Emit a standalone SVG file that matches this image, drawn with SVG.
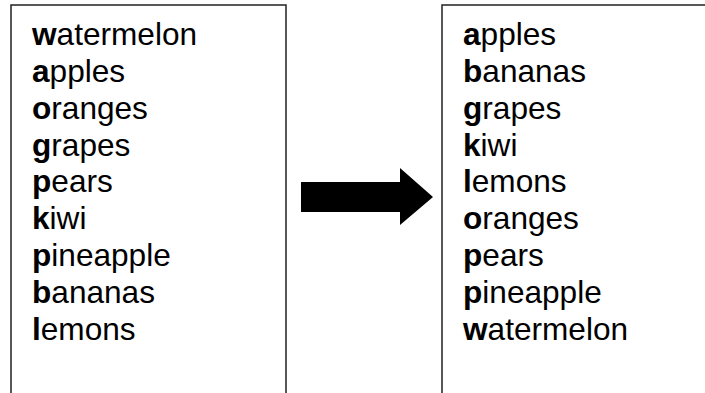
<svg xmlns="http://www.w3.org/2000/svg" width="705" height="393" viewBox="0 0 705 393">
<style>
.box{fill:#fff;stroke:#222;stroke-width:1.5}
.t{font-family:"Liberation Sans",Arial,sans-serif;font-size:31.6px;fill:#000}
.b{font-weight:bold}
</style>
<rect width="705" height="393" fill="#fff"/>
<g id="left-list">
<path class="box" d="M11,400 V5 H286 V400"/>
<text class="t" x="32" y="45"><tspan class="b">w</tspan>atermelon</text>
<text class="t" x="32" y="82"><tspan class="b">a</tspan>pples</text>
<text class="t" x="32" y="119"><tspan class="b">o</tspan>ranges</text>
<text class="t" x="32" y="156"><tspan class="b">g</tspan>rapes</text>
<text class="t" x="32" y="192"><tspan class="b">p</tspan>ears</text>
<text class="t" x="32" y="229"><tspan class="b">k</tspan>iwi</text>
<text class="t" x="32" y="266"><tspan class="b">p</tspan>ineapple</text>
<text class="t" x="32" y="303"><tspan class="b">b</tspan>ananas</text>
<text class="t" x="32" y="340"><tspan class="b">l</tspan>emons</text>
</g>
<g id="right-list">
<path class="box" d="M442,400 V5 H710"/>
<text class="t" x="463" y="45"><tspan class="b">a</tspan>pples</text>
<text class="t" x="463" y="82"><tspan class="b">b</tspan>ananas</text>
<text class="t" x="463" y="119"><tspan class="b">g</tspan>rapes</text>
<text class="t" x="463" y="156"><tspan class="b">k</tspan>iwi</text>
<text class="t" x="463" y="192"><tspan class="b">l</tspan>emons</text>
<text class="t" x="463" y="229"><tspan class="b">o</tspan>ranges</text>
<text class="t" x="463" y="266"><tspan class="b">p</tspan>ears</text>
<text class="t" x="463" y="303"><tspan class="b">p</tspan>ineapple</text>
<text class="t" x="463" y="340"><tspan class="b">w</tspan>atermelon</text>
</g>
<g id="connectors">
<polygon points="301,182 400,182 400,168 433,197 400,225 400,212 301,212" fill="#000"/>
</g>
</svg>
